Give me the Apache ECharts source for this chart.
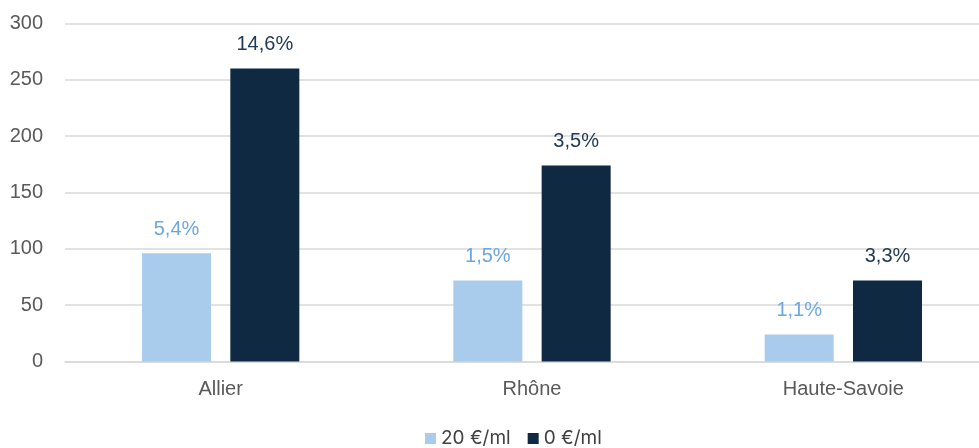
<!DOCTYPE html>
<html><head><meta charset="utf-8">
<script src="https://cdn.jsdelivr.net/npm/echarts@6/dist/echarts.min.js"></script>
<style>html,body{margin:0;padding:0;background:#fff}#c{width:979px;height:448px}</style>
</head><body><div id="c"></div>
<script>
const categories = ["Allier", "Rhône", "Haute-Savoie"];
const series20 = [96, 72, 24];
const series0 = [260, 174, 72];
const labels20 = ["5,4%", "1,5%", "1,1%"];
const labels0 = ["14,6%", "3,5%", "3,3%"];
const seriesNames = ["20 €/ml", "0 €/ml"];

const chart = echarts.init(document.getElementById('c'));
chart.setOption({
  animation: false,
  grid: {left: 65, width: 934, top: 23.5, height: 338, containLabel: false, outerBoundsMode: 'none'},
  legend: {
    top: 424, left: 420, itemWidth: 11, itemHeight: 11, itemGap: 17,
    icon: 'rect',
    textStyle: {fontFamily: 'Inter', fontSize: 19, color: '#404040'},
    data: seriesNames
  },
  xAxis: {
    type: 'category', data: categories,
    axisLine: {lineStyle: {color: '#d9d9d9', width: 1.5}},
    axisTick: {show: false},
    axisLabel: {fontFamily: 'Liberation Sans', fontSize: 20, color: '#595959', margin: 18}
  },
  yAxis: {
    type: 'value', min: 0, max: 300, interval: 50,
    axisLine: {show: false}, axisTick: {show: false},
    splitLine: {lineStyle: {color: '#d9d9d9', width: 1.5}},
    axisLabel: {fontFamily: 'Liberation Sans', fontSize: 20, color: '#595959', margin: 22}
  },
  series: [
    {
      name: seriesNames[0], type: 'bar', data: series20,
      barWidth: 69, barGap: '28%',
      itemStyle: {color: '#a9cbec'},
      label: {show: true, position: 'top', distance: 14,
        formatter: p => labels20[p.dataIndex],
        fontFamily: 'Liberation Sans', fontSize: 20, color: '#6ea6e0'}
    },
    {
      name: seriesNames[1], type: 'bar', data: series0,
      barWidth: 69,
      itemStyle: {color: '#0f2942'},
      label: {show: true, position: 'top', distance: 14,
        formatter: p => labels0[p.dataIndex],
        fontFamily: 'Liberation Sans', fontSize: 20, color: '#233a55'}
    }
  ]
});
</script></body></html>
